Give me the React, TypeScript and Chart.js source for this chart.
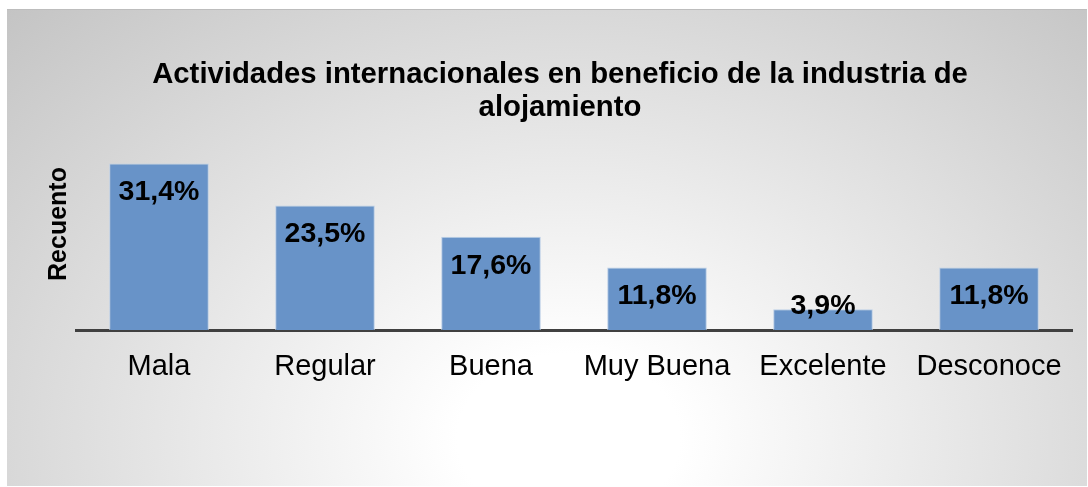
import { useEffect, useRef } from 'react';
import { Chart, registerables } from 'chart.js';

Chart.register(...registerables);

const categories = ['Mala', 'Regular', 'Buena', 'Muy Buena', 'Excelente', 'Desconoce'];
const percentages = [31.4, 23.5, 17.6, 11.8, 3.9, 11.8];
const titleLines = ['Actividades internacionales en beneficio de la industria de', 'alojamiento'];
const yAxisTitle = 'Recuento';
const yMin = 0;
const yMax = 40;

const FONT = "'Liberation Sans', Arial, sans-serif";

const decorPlugin = {
  id: 'decor',
  afterDraw(chart: any) {
    const ctx = chart.ctx;
    ctx.save();
    ctx.fillStyle = '#000000';
    // title
    ctx.font = `bold 29.3px ${FONT}`;
    ctx.textAlign = 'center';
    ctx.textBaseline = 'alphabetic';
    ctx.fillText(titleLines[0], 560, 83);
    ctx.fillText(titleLines[1], 560, 116);
    // y axis title
    ctx.save();
    ctx.translate(66, 224);
    ctx.rotate(-Math.PI / 2);
    ctx.font = `bold 25px ${FONT}`;
    ctx.textAlign = 'center';
    ctx.textBaseline = 'alphabetic';
    ctx.fillText(yAxisTitle, 0, 0);
    ctx.restore();
    // data labels
    const meta = chart.getDatasetMeta(0);
    const base = chart.chartArea.bottom;
    ctx.font = `bold 28.5px ${FONT}`;
    ctx.textAlign = 'center';
    ctx.textBaseline = 'middle';
    meta.data.forEach((bar: any, i: number) => {
      const v = percentages[i];
      const label = v.toFixed(1).replace('.', ',') + '%';
      const y = Math.min(bar.y + 29, base - 24);
      ctx.fillText(label, bar.x, y);
    });
    ctx.restore();
  },
};

export default function App() {
  const ref = useRef<HTMLCanvasElement | null>(null);
  useEffect(() => {
    if (!ref.current) return;
    const chart = new Chart(ref.current, {
      type: 'bar',
      data: {
        labels: categories,
        datasets: [
          {
            data: percentages,
            backgroundColor: '#6893c8',
            borderColor: '#bccfe6',
            borderWidth: 1,
            borderSkipped: 'bottom',
            barPercentage: 0.6,
            categoryPercentage: 1,
          },
        ],
      },
      options: {
        animation: false,
        responsive: false,
        maintainAspectRatio: false,
        layout: { padding: { left: 76, right: 16, top: 118, bottom: 0 } },
        plugins: {
          legend: { display: false },
          title: { display: false },
          tooltip: { enabled: false },
        },
        scales: {
          x: {
            offset: true,
            grid: { display: false, drawTicks: false },
            border: { display: true, color: '#404040', width: 3 },
            ticks: {
              color: '#000000',
              font: { family: FONT, size: 29 },
              padding: 20,
              maxRotation: 0,
              autoSkip: false,
            },
            afterFit: (scale: any) => {
              scale.height = 157;
            },
          },
          y: {
            display: false,
            min: yMin,
            max: yMax,
          },
        },
      },
      plugins: [decorPlugin],
    });
    return () => chart.destroy();
  }, []);

  return (
    <div style={{ position: 'absolute', left: 0, top: 0, width: 1088, height: 487, background: '#ffffff' }}>
      <div
        style={{
          position: 'absolute',
          left: 7,
          top: 9,
          width: 1080,
          height: 477,
          boxSizing: 'border-box',
          borderTop: '1px solid #bdbdbd',
          background:
            'radial-gradient(ellipse farthest-corner at 52% 90%, #ffffff 0%, #ffffff 14%, #c4c4c4 100%)',
        }}
      />
      <canvas ref={ref} width={1088} height={487} style={{ position: 'absolute', left: 0, top: 0, width: 1088, height: 487 }} />
    </div>
  );
}
